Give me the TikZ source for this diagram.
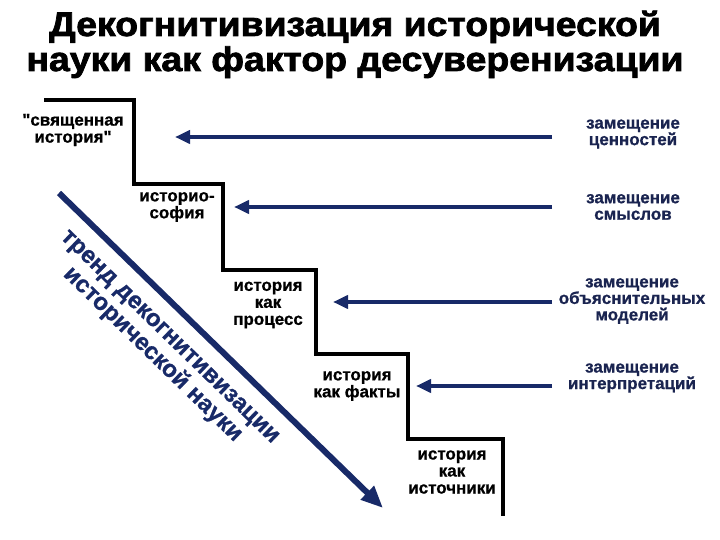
\documentclass[tikz,border=0pt]{standalone}
\usepackage{fontspec}
\setmainfont{Liberation Sans}[Ligatures=TeXOff,BoldFeatures={FakeBold=0.8}]
\newfontfamily\titlefont{Liberation Sans Bold}[FakeBold=2.2,FakeStretch=1.1]
\usetikzlibrary{arrows.meta,positioning}
\definecolor{navy}{RGB}{24,42,104}
\definecolor{inkblue}{RGB}{26,36,80}

\begin{document}
\begin{tikzpicture}[x=1pt,y=-1pt,
    steplabel/.style={font=\bfseries\fontsize{17}{17}\selectfont, align=center, text=black},
    swaplabel/.style={font=\bfseries\fontsize{17}{16.5}\selectfont, align=center, text=inkblue},
    swaparrow/.style={navy, line width=4pt, -{Triangle[length=15pt,width=13pt]}}]
        % Fix the frame
        \useasboundingbox[fill=white] (0,0) rectangle (720,540);
        % Draw the title
        \node[anchor=base, font=\titlefont\fontsize{34}{34}\selectfont] (title1) at (355,36) {Декогнитивизация исторической};
        \node[anchor=base, font=\titlefont\fontsize{34}{34}\selectfont] (title2) at (355,71) {науки как фактор десуверенизации};
        % Coordinates of the stairs
        \coordinate (s0) at (44,100);
        \coordinate (s1) at (134,100);
        \coordinate (s2) at (134,184);
        \coordinate (s3) at (223,184);
        \coordinate (s4) at (223,270);
        \coordinate (s5) at (316,270);
        \coordinate (s6) at (316,354);
        \coordinate (s7) at (408,354);
        \coordinate (s8) at (408,439);
        \coordinate (s9) at (503,439);
        \coordinate (s10) at (503,516);
        % Draw the stairs
        \draw[line width=4pt] (s0) -- (s1) -- (s2) -- (s3) -- (s4) -- (s5) -- (s6) -- (s7) -- (s8) -- (s9) -- (s10);
        % Label the steps
        \node[steplabel] (sacred) at (73,130) {"священная\\история"};
        \node[steplabel] (sophia) at (177,207) {историо-\\софия};
        \node[steplabel] (process) at (268,305) {история\\как\\процесс};
        \node[steplabel] (facts) at (357,386) {история\\как факты};
        \node[steplabel] (sources) at (452,472) {история\\как\\источники};
        % Label the substitutions
        \node[swaplabel] (values) at (633,134) {замещение\\ценностей};
        \node[swaplabel] (meanings) at (633,207) {замещение\\смыслов};
        \node[swaplabel] (models) at (632,301) {замещение\\объяснительных\\моделей};
        \node[swaplabel] (interp) at (632,378) {замещение\\интерпретаций};
        % Ends of the arrows
        \coordinate (t1) at (552,137);
        \coordinate (h1) at (175,137);
        \coordinate (t2) at (552,207);
        \coordinate (h2) at (234,207);
        \coordinate (t3) at (552,302);
        \coordinate (h3) at (333,302);
        \coordinate (t4) at (552,386);
        \coordinate (h4) at (416,386);
        % Draw the arrows
        \draw[swaparrow] (t1) -- (h1);
        \draw[swaparrow] (t2) -- (h2);
        \draw[swaparrow] (t3) -- (h3);
        \draw[swaparrow] (t4) -- (h4);
        % Draw the trend
        \coordinate (d0) at (59,193);
        \coordinate (d1) at (383,508);
        \draw[navy, line width=6pt, -{Triangle[length=22pt,width=18pt]}] (d0) -- (d1);
        \node[rotate=-44.2, font=\bfseries\fontsize{24}{25}\selectfont, align=center, text=navy] (trend) at (160,347) {тренд декогнитивизации\\исторической науки};
    \end{tikzpicture}
\end{document}
